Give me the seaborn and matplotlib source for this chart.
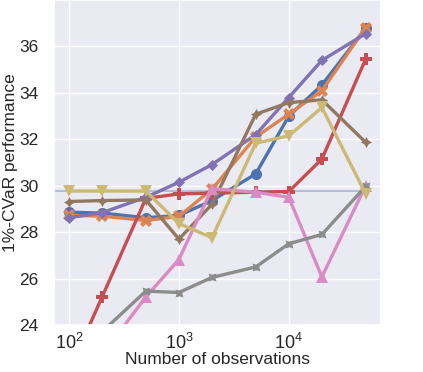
import numpy as np
import pandas as pd
import seaborn as sns
import matplotlib
matplotlib.use('Agg')
import matplotlib.pyplot as plt

# number of observations on the x axis
n_obs = [100, 200, 500, 1000, 2000, 5000, 10000, 20000, 50000]

# 1%-CVaR per method
method_names = ['m1', 'm2', 'm4', 'm5', 'm6', 'm7', 'm8', 'm9']
cvar_m1 = [28.86, 28.82, 28.62, 28.72, 29.36, 30.51, 33.00, 34.34, 36.78]
cvar_m2 = [28.72, 28.69, 28.50, 28.68, 29.85, 32.10, 33.08, 34.09, 36.81]
cvar_m4 = [22.00, 25.21, 29.45, 29.65, 29.68, 29.72, 29.75, 31.15, 35.45]
cvar_m5 = [28.62, 28.84, 29.50, 30.15, 30.91, 32.20, 33.80, 35.40, 36.55]
cvar_m6 = [29.32, 29.36, 29.39, 27.70, 29.20, 33.08, 33.58, 33.70, 31.87]
cvar_m7 = [21.50, 22.70, 25.21, 26.82, 29.87, 29.72, 29.50, 26.07, 30.00]
cvar_m8 = [22.50, 23.71, 25.46, 25.40, 26.05, 26.50, 27.50, 27.90, 29.97]
cvar_m9 = [29.77, 29.77, 29.77, 28.37, 27.76, 31.83, 32.15, 33.37, 29.65]
baseline = 29.77

sns.set_theme(style='darkgrid')
plt.rcParams['font.family'] = ['Liberation Sans', 'DejaVu Sans']

rows = []
for name, vals in zip(method_names, [cvar_m1, cvar_m2, cvar_m4, cvar_m5,
                                     cvar_m6, cvar_m7, cvar_m8, cvar_m9]):
    for n, v in zip(n_obs, vals):
        rows.append({'n': n, 'cvar': v, 'method': name})
df = pd.DataFrame(rows)

deep = sns.color_palette('deep')
colors = [deep[0], deep[1], deep[3], deep[4], deep[5], deep[6], deep[7], deep[8]]
markers = ['o', 'X', 'P', (4, 0, 0), (4, 1, 0), '^', (4, 1, 45), 'v']

fig = plt.figure(figsize=(4.23, 3.72), dpi=100)
ax = fig.add_axes([54 / 423, 47 / 372, 327 / 423, 325 / 372])

ax.hlines(baseline, 60, 50000, color='#a9b6d6', lw=1.2, zorder=1)

sns.lineplot(data=df, x='n', y='cvar', hue='method', style='method',
             palette=colors, markers=markers, dashes=False,
             lw=2.4, markersize=8, markeredgewidth=0, legend=False, ax=ax)

ax.set_xscale('log')
ax.set_xlim(73, 69000)
ax.set_ylim(24, 38)
ax.set_yticks([24, 26, 28, 30, 32, 34, 36])
ax.grid(which='minor', visible=False)
ax.tick_params(axis='y', labelsize=12.5, pad=5)
ax.tick_params(axis='x', labelsize=13, pad=0)
ax.set_xlabel('Number of observations', fontsize=12.5, labelpad=-1)
ax.set_ylabel('1%-CVaR performance', fontsize=12.5, labelpad=1)

fig.savefig('out.png', dpi=100)
